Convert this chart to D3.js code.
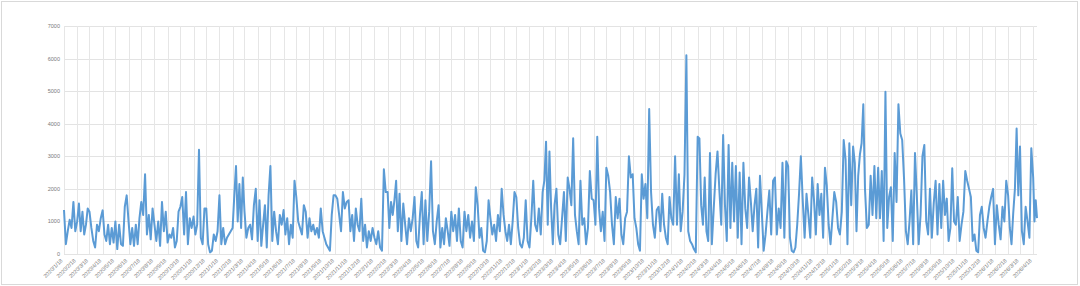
<!DOCTYPE html>
<html>
<head>
<meta charset="utf-8">
<script src="https://cdn.jsdelivr.net/npm/d3@7"></script>
<style>
  html, body { margin: 0; padding: 0; background: #ffffff; }
  svg { display: block; }
  text { font-family: "Liberation Sans", "DejaVu Sans", sans-serif; }
</style>
</head>
<body>
<svg id="chart" width="1080" height="286"></svg>
<script>
// ---- Data: readings per month segment (each segment runs from the 18th to the next 18th),
// seven readings per segment ----
const startDate = "2020/1/18";
const endDate = "2026/4/27";
const monthCount = 76;   // tick labels 2020/1/18 .. 2026/4/18
const v2020 = [
  1350, 300, 700, 1050, 800, 1600, 700,
  1000, 1550, 700, 1300, 600, 900, 1400,
  1300, 800, 400, 200, 900, 700, 1100,
  1340, 600, 400, 900, 300, 800, 350,
  1000, 150, 900, 300, 250, 1450, 1800,
  1000, 300, 800, 250, 900, 300, 1100,
  1600, 1200, 2450, 600, 1200, 450, 1400,
  900, 400, 1000, 250, 1600, 700, 1300,
  350, 600, 500, 800, 200, 400, 1300,
  1450, 1750, 600, 1900, 300, 1100, 800,
  1150, 600, 900, 3200, 500, 300, 1400,
  1400, 300, 50, 100, 600, 400, 700
];
const v2021 = [
  1800, 300, 800, 300, 500, 600, 700,
  800, 1800, 2700, 1000, 2150, 800, 2350,
  1300, 500, 800, 900, 450, 1500, 2000,
  400, 1650, 250, 900, 1500, 200, 1800,
  2700, 400, 1300, 700, 300, 1200, 900,
  1350, 600, 1100, 300, 900, 500, 2250,
  1750, 1000, 800, 600, 1500, 1300, 500,
  1100, 700, 900, 600, 800, 500, 1400,
  700, 500, 300, 200, 100, 1200, 1800,
  1800, 1700, 1200, 700, 1900, 1400, 1600,
  1650, 700, 1200, 400, 1400, 900, 700,
  1700, 400, 900, 200, 700, 400, 800
];
const v2022 = [
  500, 300, 700, 200, 100, 2600, 1900,
  1900, 800, 1600, 1200, 1650, 2250, 700,
  1850, 400, 1550, 900, 300, 1100, 700,
  1100, 1750, 400, 200, 1200, 1900, 300,
  1650, 400, 1300, 2850, 700, 300, 1000,
  1500, 200, 800, 300, 1100, 700, 250,
  1300, 700, 1200, 400, 1400, 400, 200,
  1300, 700, 1200, 500, 1000, 400, 2050,
  1500, 500, 800, 100, 50, 400, 1650,
  1100, 600, 900, 400, 1200, 700, 2000,
  1200, 700, 400, 900, 300, 1000, 1900,
  1750, 800, 300, 200, 500, 1650, 400
];
const v2023 = [
  200, 1100, 2250, 900, 700, 1400, 600,
  1900, 2250, 3450, 900, 3150, 1400, 300,
  1500, 2000, 600, 300, 1100, 1900, 400,
  2350, 2000, 1500, 3550, 1200, 700, 300,
  2250, 900, 1100, 300, 800, 2550, 1700,
  1650, 900, 3600, 1400, 700, 1300, 400,
  2650, 2400, 1900, 900, 300, 1750, 1100,
  1700, 600, 300, 1100, 1300, 3000, 2350,
  2450, 1100, 800, 300, 100, 2450, 1700,
  2150, 1100, 4450, 1900, 900, 500, 1350,
  1450, 700, 1850, 900, 500, 300, 1750,
  1100, 900, 3000, 900, 2450, 700, 1300
];
const v2024 = [
  2450, 6100, 700, 400, 300, 150, 50,
  3600, 3550, 1500, 900, 2350, 700, 400,
  3100, 300, 1400, 2450, 3150, 1950, 900,
  3650, 1500, 400, 3350, 800, 2800, 1000,
  2700, 500, 2500, 300, 2800, 1400, 800,
  2350, 1600, 700, 1500, 2000, 200, 2400,
  1300, 100, 600, 1300, 1950, 600, 2250,
  2350, 600, 1400, 800, 2800, 500, 2850,
  2700, 500, 100, 50, 200, 900, 1850,
  3000, 1650, 500, 1850, 1200, 500, 2350,
  1650, 600, 2150, 1200, 1850, 500, 2650,
  2100, 900, 300, 1100, 1900, 1600, 800
];
const v2025 = [
  600, 1300, 3500, 2900, 300, 3400, 1500,
  3300, 2800, 700, 2400, 3050, 3400, 4600,
  2000, 800, 900, 2400, 1200, 2700, 1100,
  2650, 1100, 2550, 400, 4980, 800, 1750,
  2050, 400, 3100, 1600, 4600, 3700, 3500,
  2300, 700, 300, 1000, 1950, 300, 3100,
  1800, 300, 1200, 3000, 3350, 1000, 600,
  2000, 500, 1550, 2250, 600, 2150, 800,
  2250, 1200, 1700, 400, 800, 2630, 1000,
  900, 1750, 400, 900, 1300, 2550, 2250,
  2000, 1750, 400, 600, 100, 50, 1200,
  1450, 800, 500, 1000, 1450, 1750, 2000
];
const v2026 = [
  300, 1500, 900, 450, 1450, 1000, 2250,
  1800, 800, 300, 1250, 2000, 3850, 1800,
  3300, 700, 300, 1450, 1000, 500, 3250
];
const v2026tail = [2350, 1000, 1650, 1100];   // 2026/4/18 .. end
const yTicks = [0, 1000, 2000, 3000, 4000, 5000, 6000, 7000];

const parse = d3.timeParse("%Y/%m/%d");
const fmt = d3.timeFormat("%Y/%-m/%-d");
const t0 = parse(startDate), t1 = parse(endDate);
// monthly category ticks (the 18th of each month)
const tickDates = d3.range(monthCount).map(m => d3.timeMonth.offset(t0, m));
const tickLabels = tickDates.map(fmt);

// ---- Assemble series: place readings within their month segment ----
const segValues = [].concat(v2020, v2021, v2022, v2023, v2024, v2025, v2026);
const data = [];
segValues.forEach((v, i) => {
  const seg = Math.floor(i / 7), k = i % 7;
  const a = tickDates[seg], b = tickDates[seg + 1];
  data.push({ date: new Date(+a + (b - a) * k / 7), value: v });
});
const lastTick = tickDates[tickDates.length - 1];
v2026tail.forEach((v, k) => {
  data.push({ date: new Date(+lastTick + (t1 - lastTick) * k / (v2026tail.length - 1)), value: v });
});

// ---- Layout ----
const svg = d3.select("#chart");
const L = 64, R = 1037, T = 26, B = 254;
const x = d3.scaleTime().domain([t0, t1]).range([L, R]);
const y = d3.scaleLinear().domain([0, 7000]).range([B, T]);

svg.append("rect").attr("x", 1.5).attr("y", 1.5).attr("width", 1076).attr("height", 283)
  .attr("fill", "#ffffff").attr("stroke", "#d9d9d9").attr("stroke-width", 1);

// gridlines
svg.append("g").selectAll("line").data(yTicks).join("line")
  .attr("x1", L).attr("x2", R)
  .attr("y1", d => Math.round(y(d)) + 0.5).attr("y2", d => Math.round(y(d)) + 0.5)
  .attr("stroke", "#e3e3e3").attr("stroke-width", 1);
svg.append("g").selectAll("line").data(tickDates).join("line")
  .attr("x1", d => Math.round(x(d)) + 0.5).attr("x2", d => Math.round(x(d)) + 0.5)
  .attr("y1", T).attr("y2", B)
  .attr("stroke", "#e6e6e6").attr("stroke-width", 1);

// y labels
svg.append("g").selectAll("text").data(yTicks).join("text")
  .attr("x", 60).attr("y", d => y(d) + 2)
  .attr("text-anchor", "end").attr("font-size", 5.5).attr("fill", "#7a7a7a")
  .text(d => d);

// x labels
svg.append("g").selectAll("text").data(tickDates).join("text")
  .attr("transform", d => `translate(${x(d) - 1},${261}) rotate(-45)`)
  .attr("text-anchor", "end").attr("font-size", 5.5).attr("fill", "#7a7a7a")
  .text((d, i) => tickLabels[i]);

// line
svg.append("path").datum(data)
  .attr("fill", "none").attr("stroke", "#5b9bd5").attr("stroke-width", 2)
  .attr("stroke-linejoin", "round")
  .attr("d", d3.line().x(d => x(d.date)).y(d => y(d.value)));
</script>
</body>
</html>
